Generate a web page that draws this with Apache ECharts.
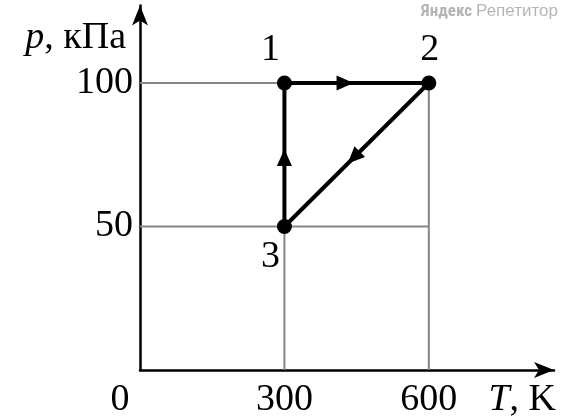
<!DOCTYPE html>
<html><head><meta charset="utf-8">
<script src="https://cdn.jsdelivr.net/npm/echarts@6/dist/echarts.min.js"></script>
<style>html,body{margin:0;padding:0;background:#fff}#c{width:562px;height:420px}</style>
</head><body><div id="c"></div>
<script>
const pointNames = ['1', '2', '3'];
const temps = [300, 600, 300];      // T, K
const pressures = [100, 100, 50];   // p, kPa
const xTicks = [0, 300, 600];
const yTicks = [50, 100];
const cycleOrder = [0, 1, 2, 0];    // 1 -> 2 -> 3 -> 1

const serif = 'Liberation Serif';
const FS = 38;
const chart = echarts.init(document.getElementById('c'));

const pts = temps.map((t, i) => [t, pressures[i]]);
const cycle = cycleOrder.map(i => pts[i]);
const xMaxT = xTicks[xTicks.length - 1];
const yMaxP = yTicks[yTicks.length - 1];

// grey guide lines
const guides = [];
yTicks.forEach(p => guides.push([[0, p], [xMaxT, p]]));
xTicks.slice(1).forEach(t => guides.push([[t, 0], [t, yMaxP]]));

// direction arrows on each segment
const arrows = [];
for (let k = 0; k < cycle.length - 1; k++) {
  arrows.push({ a: cycle[k], b: cycle[k + 1] });
}
const arrowPos = [0.42, 0.52, 0.48];

const series = [];
guides.forEach(g => series.push({
  type: 'line', data: g, symbol: 'none', silent: true,
  lineStyle: { color: '#858585', width: 2 }, z: 1
}));
series.push({
  type: 'line', data: cycle, symbol: 'none',
  lineStyle: { color: '#000', width: 4 }, z: 3
});
series.push({
  type: 'custom', z: 4,
  data: arrows.map((s, i) => [i]),
  renderItem: (params, api) => {
    const s = arrows[params.dataIndex];
    const pa = api.coord(s.a), pb = api.coord(s.b);
    const f = arrowPos[params.dataIndex];
    const mx = pa[0] + (pb[0] - pa[0]) * f, my = pa[1] + (pb[1] - pa[1]) * f;
    const ang = Math.atan2(pb[1] - pa[1], pb[0] - pa[0]);
    const L = 17, W = 7.5;
    const c = Math.cos(ang), sn = Math.sin(ang);
    const tip = [mx + c * L / 2, my + sn * L / 2];
    const back = [mx - c * L / 2, my - sn * L / 2];
    const p1 = [back[0] - sn * W, back[1] + c * W];
    const p2 = [back[0] + sn * W, back[1] - c * W];
    return { type: 'polygon', shape: { points: [tip, p1, p2] }, style: { fill: '#000' } };
  }
});
const labelOffsets = [[-14, -33], [1, -33], [-14, 31]];
series.push({
  type: 'scatter', z: 5, symbolSize: 15,
  itemStyle: { color: '#000', opacity: 1 },
  data: pts.map((p, i) => ({
    value: p, name: pointNames[i],
    label: { show: true, formatter: pointNames[i], position: 'inside', offset: labelOffsets[i],
      color: '#000', fontFamily: serif, fontSize: FS }
  }))
});

chart.setOption({
  animation: false,
  graphic: [{
    type: 'text', right: 4, top: 3,
    style: { text: 'Яндекс {r|Репетитор}', fill: '#b5b5b5', font: 'bold 17px "Roboto Condensed", "Liberation Sans Narrow", Roboto, sans-serif',
      rich: { r: { fontWeight: 'normal', fontSize: 17, fill: '#b5b5b5' } } }
  }],
  grid: { left: 140, right: 8, top: 5.5, bottom: 50 },
  xAxis: {
    type: 'value', min: 0, max: 860,
    splitLine: { show: false },
    axisLine: { lineStyle: { color: '#000', width: 2.5 }, symbol: ['none', 'arrow'], symbolSize: [12, 20] },
    axisTick: { show: false },
    axisLabel: {
      customValues: xTicks, color: '#000', fontFamily: serif, fontSize: FS, margin: 11,
      formatter: v => v === 0 ? '{z|0}' : String(v),
      rich: { z: { fontFamily: serif, fontSize: FS, color: '#000', padding: [0, 40, 0, 0] } }
    },
    name: '{i|T}, K', nameLocation: 'end', nameGap: 2,
    nameTextStyle: { color: '#000', fontFamily: serif, fontSize: FS, align: 'right', verticalAlign: 'top', padding: [11, 0, 0, 0],
      rich: { i: { fontStyle: 'italic', fontFamily: serif, fontSize: FS, color: '#000' } } }
  },
  yAxis: {
    type: 'value', min: 0, max: 127,
    splitLine: { show: false },
    axisLine: { lineStyle: { color: '#000', width: 2.5 }, symbol: ['none', 'arrow'], symbolSize: [12, 20] },
    axisTick: { show: false },
    axisLabel: { customValues: yTicks, color: '#000', fontFamily: serif, fontSize: FS, margin: 7 },
    name: '{i|p}, кПа', nameLocation: 'end', nameGap: -33,
    nameTextStyle: { color: '#000', fontFamily: serif, fontSize: FS, align: 'right', verticalAlign: 'middle', padding: [0, 14, 0, 0],
      rich: { i: { fontStyle: 'italic', fontFamily: serif, fontSize: FS, color: '#000' } } }
  },
  series
});
</script></body></html>
